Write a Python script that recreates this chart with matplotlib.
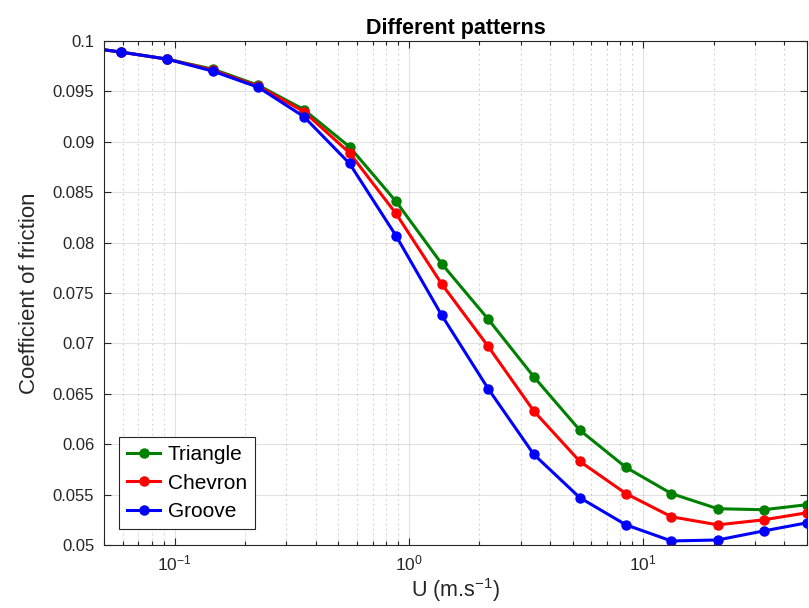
import numpy as np
import matplotlib
matplotlib.use('Agg')
import matplotlib.pyplot as plt
from matplotlib.ticker import LogLocator, FuncFormatter, MultipleLocator, NullFormatter

plt.rcParams['font.family'] = ['Liberation Sans', 'DejaVu Sans']
plt.rcParams['mathtext.fontset'] = 'custom'
plt.rcParams['mathtext.rm'] = 'Liberation Sans'
plt.rcParams['mathtext.it'] = 'Liberation Sans:italic'
plt.rcParams['mathtext.bf'] = 'Liberation Sans:bold'
plt.rcParams['axes.unicode_minus'] = False

# velocity (m/s)
U = [0.038, 0.059, 0.093, 0.146, 0.228, 0.356, 0.558, 0.88, 1.38, 2.18,
     3.41, 5.36, 8.44, 13.2, 20.8, 32.7, 50.0]

# coefficient of friction for each pattern
triangle = [0.0995, 0.0989, 0.0982, 0.0972, 0.0956, 0.0932, 0.0895, 0.0841, 0.0779,
            0.0724, 0.0667, 0.0614, 0.0577, 0.0551, 0.0536, 0.0535, 0.0540]
chevron = [0.0995, 0.0989, 0.0982, 0.0971, 0.0955, 0.0930, 0.0889, 0.0829, 0.0759,
           0.0697, 0.0633, 0.0583, 0.0551, 0.0528, 0.0520, 0.0525, 0.0532]
groove = [0.0995, 0.0989, 0.0982, 0.0970, 0.0954, 0.0925, 0.08785, 0.0807, 0.0728,
          0.0655, 0.0590, 0.0547, 0.0520, 0.0504, 0.0505, 0.0514, 0.0522]

labels = ['Triangle', 'Chevron', 'Groove']
colors = ['#008000', '#ff0000', '#0000ff']

fig = plt.figure(figsize=(8.09, 6.08), dpi=100)
ax = fig.add_axes([0.1286, 0.1036, 0.8689, 0.829])

for ys, lab, c in zip([triangle, chevron, groove], labels, colors):
    ax.plot(U, ys, '-o', color=c, lw=2.2, ms=6.5, label=lab)

ax.set_xscale('log')
ax.set_xlim(0.05, 50)
ax.set_ylim(0.05, 0.1)

ax.xaxis.set_major_locator(LogLocator(base=10, numticks=10))
ax.xaxis.set_minor_locator(LogLocator(base=10, subs=np.arange(2, 10), numticks=20))
ax.xaxis.set_minor_formatter(NullFormatter())
ax.yaxis.set_major_locator(MultipleLocator(0.005))
ax.yaxis.set_major_formatter(FuncFormatter(lambda v, p: '%g' % round(v, 4)))

ax.grid(True, which='major', color='#262626', alpha=0.13, lw=0.8)
ax.grid(True, which='minor', axis='x', color='#262626', alpha=0.22, lw=0.8,
        ls=(0, (1.5, 3)))
ax.set_axisbelow(True)

ax.tick_params(which='both', direction='in', top=True, right=True, colors='#262626')
ax.tick_params(axis='y', labelsize=12, pad=7)
ax.tick_params(axis='x', labelsize=12.5, pad=6)
ax.tick_params(which='major', length=5, width=0.8)
ax.tick_params(which='minor', length=3, width=0.8)
for s in ax.spines.values():
    s.set_color('#262626')
    s.set_linewidth(0.8)

ax.set_xlabel('U (m.s$^{-1}$)', fontsize=15.5, color='#262626', labelpad=2)
ax.set_ylabel('Coefficient of friction', fontsize=16, color='#262626', labelpad=9)
ax.set_title('Different patterns', fontsize=15.5, fontweight='bold', pad=5)

leg = ax.legend(loc='lower left', bbox_to_anchor=(0.0213, 0.0317), borderaxespad=0,
                fontsize=15, fancybox=False, edgecolor='#262626', framealpha=1,
                handlelength=1.6, handletextpad=0.35, labelspacing=0.45, borderpad=0.38)
leg.get_frame().set_linewidth(0.8)

fig.savefig('out.png', dpi=100)
